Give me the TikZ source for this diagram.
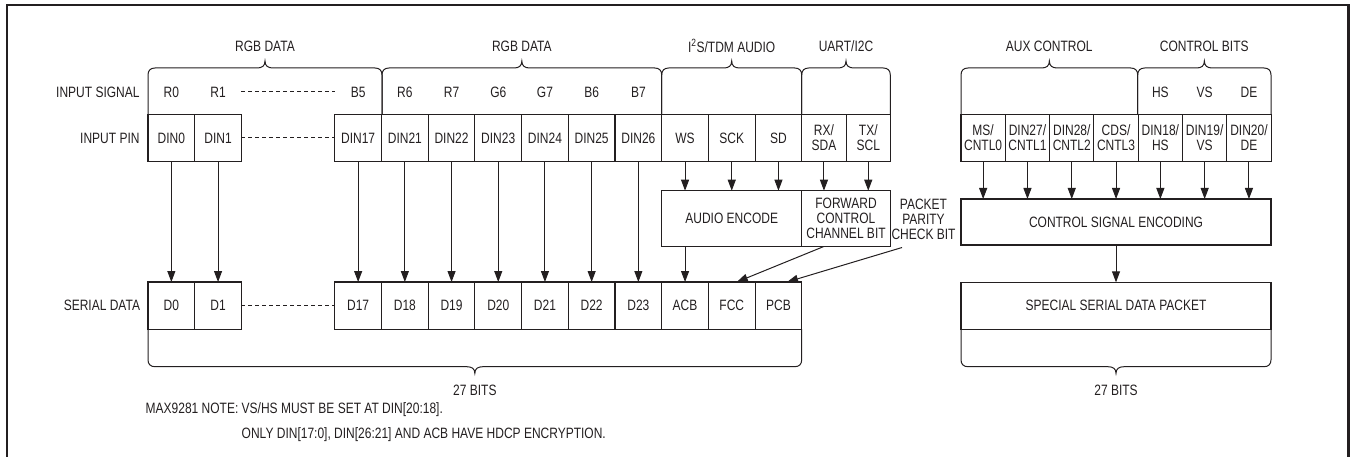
\documentclass[tikz,border=0pt]{standalone}
\usepackage{fontspec}
\setmainfont{Liberation Sans}[FakeStretch=0.8]
\usetikzlibrary{arrows.meta, positioning}
\definecolor{ink}{RGB}{35,31,32}
\tikzstyle{cell} = [rectangle, minimum width=46.7pt, minimum height=47.4pt, inner sep=0pt, outer sep=0pt, align=center, draw=ink, line width=1.1pt]
\tikzstyle{ncell} = [cell, minimum width=44.3pt]
\tikzstyle{blk} = [rectangle, inner sep=0pt, outer sep=0pt, align=center, draw=ink, line width=1.1pt]
\tikzstyle{lbl} = [inner sep=0pt, outer sep=0pt]
\tikzstyle{arrow} = [line width=1pt, -{Triangle[length=11pt,width=8pt]}]
\tikzstyle{brace} = [line width=1pt]
\tikzstyle{dots} = [line width=1pt, dash pattern=on 4pt off 3pt]
\tikzstyle{frame} = [line width=2.2pt, draw=ink]

% brace over a group of input pins
\newcommand{\sigbrace}[2]{%
  \pgfmathsetmacro\bmid{(#1+#2)/2}
  \draw [brace] (#1,114.3) -- (#1,75) .. controls (#1,70.5) and (#1+2.5,68) .. (#1+7,68)
    -- (\bmid-8,68) .. controls (\bmid-3,68) and (\bmid,66) .. (\bmid,61)
    .. controls (\bmid,66) and (\bmid+3,68) .. (\bmid+8,68)
    -- (#2-7,68) .. controls (#2-2.5,68) and (#2,70.5) .. (#2,75) -- (#2,114.3);}
% brace under a serial word
\newcommand{\bitbrace}[2]{%
  \pgfmathsetmacro\bmid{(#1+#2)/2}
  \draw [brace] (#1,329) -- (#1,359.7) .. controls (#1,364.2) and (#1+2.5,366.7) .. (#1+7,366.7)
    -- (\bmid-8,366.7) .. controls (\bmid-3,366.7) and (\bmid,368.7) .. (\bmid,373.3)
    .. controls (\bmid,368.7) and (\bmid+3,366.7) .. (\bmid+8,366.7)
    -- (#2-7,366.7) .. controls (#2-2.5,366.7) and (#2,364.2) .. (#2,359.7) -- (#2,329);}

\begin{document}
\begin{tikzpicture}[x=1pt, y=-1pt, node distance=46.7pt, font=\fontsize{15}{15}\selectfont, color=ink]
		\useasboundingbox (0,0) rectangle (1351,457);
		\draw [frame] (6.8,5) rectangle (1348.5,470);
		% input pins
		\node (din0) [cell] at (171.35,138) {DIN0};
		\node (din1) [cell, right of=din0] {DIN1};
		\node (din17) [cell, right of=din1, xshift=93.4pt] {DIN17};
		\node (din21) [cell, right of=din17] {DIN21};
		\node (din22) [cell, right of=din21] {DIN22};
		\node (din23) [cell, right of=din22] {DIN23};
		\node (din24) [cell, right of=din23] {DIN24};
		\node (din25) [cell, right of=din24] {DIN25};
		\node (din26) [cell, right of=din25] {DIN26};
		\node (ws) [cell, right of=din26] {WS};
		\node (sck) [cell, right of=ws] {SCK};
		\node (sd) [cell, right of=sck] {SD};
		\node (rx) [ncell, node distance=44.3pt, right of=sd, xshift=1.2pt] {RX/\\SDA};
		\node (tx) [ncell, node distance=44.3pt, right of=rx] {TX/\\SCL};
		\node (ms) [ncell] at (983.15,138) {MS/\\CNTL0};
		\node (cntl1) [ncell, node distance=44.3pt, right of=ms] {DIN27/\\CNTL1};
		\node (cntl2) [ncell, node distance=44.3pt, right of=cntl1] {DIN28/\\CNTL2};
		\node (cds) [ncell, node distance=44.3pt, right of=cntl2] {CDS/\\CNTL3};
		\node (hs) [ncell, node distance=44.3pt, right of=cds] {DIN18/\\HS};
		\node (vs) [ncell, node distance=44.3pt, right of=hs] {DIN19/\\VS};
		\node (de) [ncell, node distance=44.3pt, right of=vs] {DIN20/\\DE};
		% input signals
		\node (sr0) [lbl, node distance=46pt, above of=din0] {R0};
		\node (sr1) [lbl, node distance=46pt, above of=din1] {R1};
		\node (sb5) [lbl, node distance=46pt, above of=din17] {B5};
		\node (sr6) [lbl, node distance=46pt, above of=din21] {R6};
		\node (sr7) [lbl, node distance=46pt, above of=din22] {R7};
		\node (sg6) [lbl, node distance=46pt, above of=din23] {G6};
		\node (sg7) [lbl, node distance=46pt, above of=din24] {G7};
		\node (sb6) [lbl, node distance=46pt, above of=din25] {B6};
		\node (sb7) [lbl, node distance=46pt, above of=din26] {B7};
		\node (shs) [lbl, node distance=46pt, above of=hs] {HS};
		\node (svs) [lbl, node distance=46pt, above of=vs] {VS};
		\node (sde) [lbl, node distance=46pt, above of=de] {DE};
		\draw [dots] (din1.east |- sr1) -- (din17.west |- sb5);
		\draw [dots] (din1) -- (din17);
		% group braces
		\sigbrace{148}{382}
		\sigbrace{382}{661.7}
		\sigbrace{661.7}{801.7}
		\sigbrace{801.7}{890.3}
		\sigbrace{961}{1137.7}
		\sigbrace{1137.7}{1271}
		\node (rgba) [lbl] at (265,46) {RGB DATA};
		\node (rgbb) [lbl] at (521.85,46) {RGB DATA};
		\node (i2s) [lbl] at (731.7,46) {I\textsuperscript{2}S/TDM AUDIO};
		\node (uart) [lbl] at (846,46) {UART/I2C};
		\node (aux) [lbl] at (1049.3,46) {AUX CONTROL};
		\node (ctrl) [lbl] at (1204.3,46) {CONTROL BITS};
		% row labels
		\node (siglbl) [lbl, node distance=31.8pt, left of=sr0, anchor=east] {INPUT SIGNAL};
		\node (pinlbl) [lbl, node distance=31.8pt, left of=din0, anchor=east] {INPUT PIN};
		% encoders
		\node (aenc) [blk, minimum width=140pt, minimum height=56pt] at (731.7,218.7) {AUDIO ENCODE};
		\node (fwd) [blk, minimum width=88.6pt, minimum height=56pt] at (846,218.7) {FORWARD\\CONTROL\\CHANNEL BIT};
		\node (pkttxt) [lbl, align=center] at (923.5,219) {PACKET\\PARITY\\CHECK BIT};
		\coordinate (pcbtail) at (902,247.5);
		\node (cenc) [blk, minimum width=310pt, minimum height=46pt] at (1116,222) {CONTROL SIGNAL ENCODING};
		% serial data
		\node (d0) [cell] at (171.35,305.7) {D0};
		\node (d1) [cell, right of=d0] {D1};
		\node (d17) [cell, right of=d1, xshift=93.4pt] {D17};
		\node (d18) [cell, right of=d17] {D18};
		\node (d19) [cell, right of=d18] {D19};
		\node (d20) [cell, right of=d19] {D20};
		\node (d21) [cell, right of=d20] {D21};
		\node (d22) [cell, right of=d21] {D22};
		\node (d23) [cell, right of=d22] {D23};
		\node (acb) [cell, right of=d23] {ACB};
		\node (fcc) [cell, right of=acb] {FCC};
		\node (pcb) [cell, right of=fcc] {PCB};
		\node (serlbl) [lbl, node distance=31.3pt, left of=d0, anchor=east] {SERIAL DATA};
		\draw [dots] (d1) -- (d17);
		\node (spkt) [blk, minimum width=310pt, minimum height=46.7pt] at (1116,305.7) {SPECIAL SERIAL DATA PACKET};
		% arrows
		\draw [arrow] (din0) -- (d0);
		\draw [arrow] (din1) -- (d1);
		\draw [arrow] (din17) -- (d17);
		\draw [arrow] (din21) -- (d18);
		\draw [arrow] (din22) -- (d19);
		\draw [arrow] (din23) -- (d20);
		\draw [arrow] (din24) -- (d21);
		\draw [arrow] (din25) -- (d22);
		\draw [arrow] (din26) -- (d23);
		\draw [arrow] (ws) -- (ws |- aenc.north);
		\draw [arrow] (sck) -- (sck |- aenc.north);
		\draw [arrow] (sd) -- (sd |- aenc.north);
		\draw [arrow] (rx) -- (rx |- fwd.north);
		\draw [arrow] (tx) -- (tx |- fwd.north);
		\draw [arrow] (acb |- aenc.south) -- (acb);
		\draw [arrow] (fwd.-129) -- (fcc.78);
		\draw [arrow] (pcbtail) -- (pcb.70);
		\draw [arrow] (ms) -- (ms |- cenc.north);
		\draw [arrow] (cntl1) -- (cntl1 |- cenc.north);
		\draw [arrow] (cntl2) -- (cntl2 |- cenc.north);
		\draw [arrow] (cds) -- (cds |- cenc.north);
		\draw [arrow] (hs) -- (hs |- cenc.north);
		\draw [arrow] (vs) -- (vs |- cenc.north);
		\draw [arrow] (de) -- (de |- cenc.north);
		\draw [arrow] (cenc) -- (spkt);
		% word braces
		\bitbrace{148}{801.7}
		\bitbrace{961}{1271}
		\node (bitsl) [lbl] at (474.85,390) {27 BITS};
		\node (bitsr) [lbl] at (1116,390) {27 BITS};
		% note
		\node (note) [lbl, anchor=base west] at (145.7,413.3) {\begin{tabular}[t]{@{}l@{\ }l@{}}MAX9281 NOTE: & VS/HS MUST BE SET AT DIN[20:18].\\[10pt] & ONLY DIN[17:0], DIN[26:21] AND ACB HAVE HDCP ENCRYPTION.\end{tabular}};
\end{tikzpicture}
\end{document}
